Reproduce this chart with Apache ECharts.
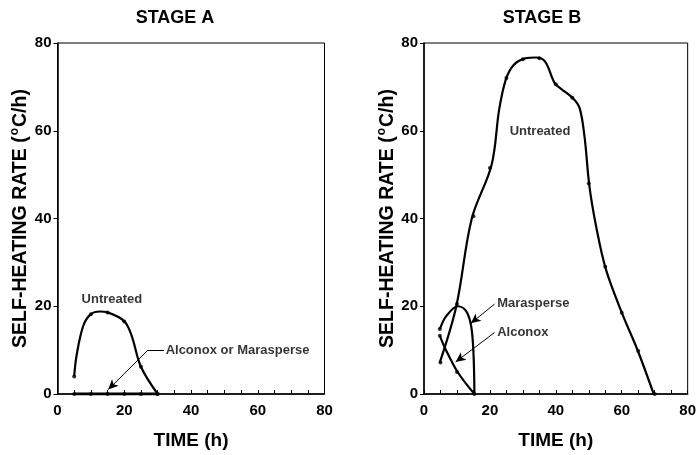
<!DOCTYPE html>
<html>
<head>
<meta charset="utf-8">
<script src="https://cdn.jsdelivr.net/npm/echarts@6/dist/echarts.min.js"></script>
<style>
  html, body { margin: 0; padding: 0; background: #fff; }
  #chart { width: 699px; height: 455px; }
</style>
</head>
<body>
<div id="chart"></div>
<script>
// time axis ticks (h) and rate ticks (oC/h)
const xTicks = [0, 20, 40, 60, 80]
const yTicks = [0, 20, 40, 60, 80]

// Stage A curves (traced), and measured points every 5 h
const aUntreatedCurve = [[5, 4], [5.7, 8.7], [7.7, 15.5], [10, 18.2], [12.7, 18.8], [15, 18.6], [20, 16.6], [22.2, 13.3], [25, 6.2], [30, 0]]
const aUntreatedPts = [[5, 4], [10, 18.2], [15, 18.6], [20, 16.5], [25, 6.2], [30, 0]]
const aTreated = [[5, 0], [10, 0], [15, 0], [20, 0], [25, 0], [30, 0]]

// Stage B curves
const bUntreatedCurve = [[4.8, 7.2], [9.8, 20], [14.5, 40], [20.5, 52.2], [22.8, 64.8], [24.8, 71.6], [27.2, 75], [30.7, 76.5], [34, 76.7], [36.7, 75.8], [39.7, 70.8], [41.7, 69.5], [45.2, 67.4], [47.2, 65.2], [48.7, 58.7], [50.2, 47.3], [52.2, 38.3], [55.2, 28.4], [60.2, 18.2], [64.7, 10.2], [69.7, 0]]
const bUntreatedPts = [[5, 7.2], [10, 20.5], [15, 40.5], [20, 51.5], [25, 72], [30, 76.3], [35, 76.5], [40, 70.6], [45, 67.5], [50, 48], [55, 29], [60, 18.5], [65, 9.8], [70, 0]]
const bMarasperse = [[4.8, 14.8], [6.8, 17.8], [10.3, 20], [12.8, 18.9], [14.3, 15.5], [15, 9.5], [15.3, 0]]
const bAlconox = [[4.8, 13.3], [6.3, 10.6], [10.3, 4.9], [15.3, 0]]

// annotations: [x, y, text, align]
const notesA = [[16.3, 21.5, 'Untreated', 'center'], [32.4, 9.9, 'Alconox or Marasperse', 'left']]
const notesB = [[35.2, 59.8, 'Untreated', 'center'], [22.2, 20.7, 'Marasperse', 'left'], [22.2, 14, 'Alconox', 'left']]
// arrows: [fromX, fromY, toX, toY, head]
const arrowsA = [[31.9, 10, 27.1, 10, false], [27.1, 10, 15.2, 1.0, true]]
const arrowsB = [[21.4, 20.5, 14.2, 16.1, true], [21.4, 14, 9.6, 7.3, true]]

const FONT = '"Liberation Sans", Arial, Helvetica, sans-serif'
const INK = '#000'

const xAxis = (gridIndex) => ({
  gridIndex,
  type: 'value',
  min: 0,
  max: 80,
  interval: 5,
  name: 'TIME (h)',
  nameLocation: 'middle',
  nameGap: 37,
  nameTextStyle: { color: INK, fontFamily: FONT, fontSize: 19, fontWeight: 'bold' },
  axisLine: { lineStyle: { color: INK, width: 1.5 } },
  axisTick: { inside: true, length: 4, lineStyle: { color: INK, width: 1 } },
  axisLabel: {
    color: INK, fontFamily: FONT, fontSize: 15, fontWeight: 'bold', margin: 9,
    formatter: (v) => (xTicks.includes(v) ? String(v) : '')
  },
  splitLine: { show: false }
})

const yAxis = (gridIndex) => ({
  gridIndex,
  type: 'value',
  min: 0,
  max: 80,
  interval: 20,
  name: '{a|SELF-HEATING RATE (}{s|o}{a|C/h)}',
  nameLocation: 'middle',
  nameGap: 20,
  nameTextStyle: {
    rich: {
      a: { color: INK, fontFamily: FONT, fontSize: 19.5, fontWeight: 'bold', lineHeight: 22, verticalAlign: 'bottom' },
      s: { color: INK, fontFamily: FONT, fontSize: 12, fontWeight: 'bold', lineHeight: 22, verticalAlign: 'top', padding: [0, 1, 6, 1] }
    }
  },
  axisLine: { show: true, lineStyle: { color: INK, width: 1.5 } },
  axisTick: { show: true, length: 4, lineStyle: { color: INK, width: 1 } },
  axisLabel: {
    color: INK, fontFamily: FONT, fontSize: 15, fontWeight: 'bold', margin: 6,
    formatter: (v) => (yTicks.includes(v) ? String(v) : '')
  },
  splitLine: { show: false }
})

const curve = (idx, data, width) => ({
  type: 'line', xAxisIndex: idx, yAxisIndex: idx, data,
  smooth: 0.35, showSymbol: false, silent: true,
  lineStyle: { color: INK, width }
})

const points = (idx, data) => ({
  type: 'scatter', xAxisIndex: idx, yAxisIndex: idx, data,
  symbolSize: 4, silent: true, itemStyle: { color: INK }
})

const notes = (idx, list, arrows) => ({
  type: 'scatter', xAxisIndex: idx, yAxisIndex: idx,
  data: list.map(([x, y, t, al]) => ({
    value: [x, y],
    label: {
      show: true, formatter: t, position: al === 'left' ? 'right' : 'inside',
      distance: 0, color: INK, fontFamily: FONT, fontSize: 13, fontWeight: 'bold'
    }
  })),
  symbolSize: 0, silent: true,
  markLine: {
    silent: true, animation: false,
    symbolSize: [7, 10],
    label: { show: false },
    lineStyle: { color: INK, width: 1, type: 'solid' },
    data: arrows.map(([x1, y1, x2, y2, head]) => [
      { coord: [x1, y1], symbol: 'none' },
      { coord: [x2, y2], symbol: head ? 'arrow' : 'none' }
    ])
  }
})

const titleStyle = { color: INK, fontFamily: FONT, fontSize: 18, fontWeight: 'bold' }

const option = {
  animation: false,
  backgroundColor: '#fff',
  title: [
    { text: 'STAGE A', left: 170, top: 4, textAlign: 'center', textStyle: titleStyle },
    { text: 'STAGE B', left: 537, top: 4, textAlign: 'center', textStyle: titleStyle }
  ],
  grid: [
    { left: 57.5, right: 374.5, top: 43, bottom: 60, show: true, borderColor: INK, borderWidth: 1 },
    { left: 424, right: 8, top: 43, bottom: 60, show: true, borderColor: INK, borderWidth: 1 }
  ],
  xAxis: [xAxis(0), xAxis(1)],
  yAxis: [yAxis(0), yAxis(1)],
  series: [
    curve(0, aUntreatedCurve, 2.2),
    points(0, aUntreatedPts),
    curve(0, aTreated, 3),
    points(0, aTreated),
    notes(0, notesA, arrowsA),
    curve(1, bUntreatedCurve, 2.2),
    points(1, bUntreatedPts),
    curve(1, bMarasperse, 2.2),
    curve(1, bAlconox, 2.2),
    points(1, [bMarasperse[0], bAlconox[0], [10, 5], [15.3, 0]]),
    notes(1, notesB, arrowsB)
  ]
}

const chart = echarts.init(document.getElementById('chart'))
chart.setOption(option)
</script>
</body>
</html>
